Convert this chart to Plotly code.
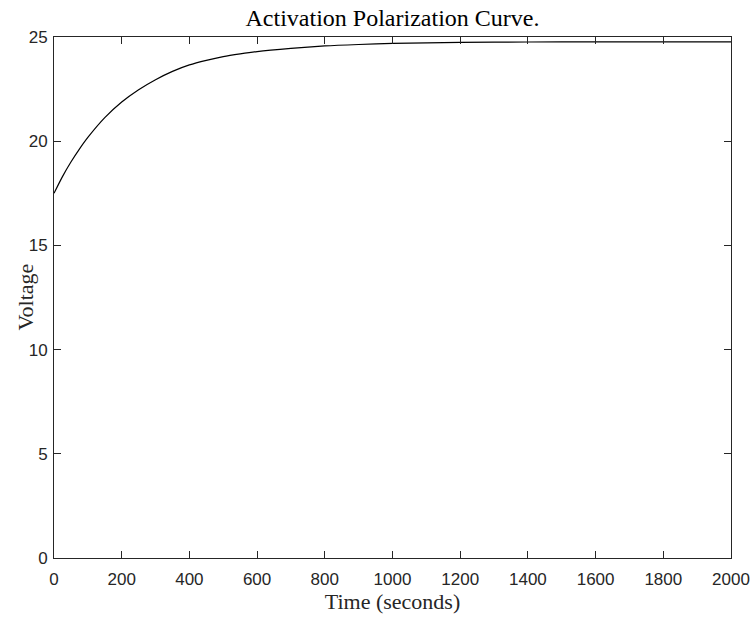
import plotly.graph_objects as go

# Activation polarization: voltage over time
time_s = [0, 25, 50, 75, 100, 150, 200, 250, 300, 350, 400, 450, 500, 550, 600,
          700, 800, 900, 1000, 1200, 1400, 1600, 1800, 2000]
voltage = [17.50, 18.30, 19.00, 19.62, 20.18, 21.13, 21.88, 22.47, 22.95, 23.35,
           23.66, 23.88, 24.06, 24.19, 24.30, 24.45, 24.57, 24.64, 24.69, 24.74,
           24.76, 24.77, 24.77, 24.77]

x_ticks = list(range(0, 2001, 200))
y_ticks = [0, 5, 10, 15, 20, 25]

W, H = 756, 621
ML, MR, MT, MB = 54, 25, 37, 63
PW = W - ML - MR

serif = "Liberation Serif, Times New Roman, serif"
sans = "Liberation Sans, Arial, sans-serif"
axis_col = "#262626"

fig = go.Figure()
fig.add_trace(go.Scatter(
    x=time_s, y=voltage, mode="lines",
    line=dict(color="black", width=1.2, shape="spline", smoothing=0.6),
    showlegend=False, hoverinfo="skip",
))

axis_common = dict(
    showline=True, linecolor=axis_col, linewidth=1, mirror="ticks",
    ticks="inside", ticklen=7, tickwidth=1, tickcolor=axis_col,
    showgrid=False, zeroline=False, automargin=False,
    tickfont=dict(family=sans, size=17, color=axis_col),
)

fig.update_layout(
    width=W, height=H,
    margin=dict(l=ML, r=MR, t=MT, b=MB),
    paper_bgcolor="white", plot_bgcolor="white",
    title=dict(
        text="Activation Polarization Curve.",
        font=dict(family=serif, size=24, color="black"),
        x=(ML + PW / 2) / W, xanchor="center",
        y=1 - 18 / H, yanchor="middle", yref="container",
    ),
    xaxis=dict(
        range=[0, 2000], tickvals=x_ticks,
        title=dict(text="Time (seconds)", font=dict(family=serif, size=22, color=axis_col), standoff=2),
        ticklabelstandoff=6,
        **axis_common,
    ),
    yaxis=dict(
        range=[0, 25], tickvals=y_ticks,
        ticklabelstandoff=2,
        **axis_common,
    ),
)

# y-axis label placed as a rotated annotation in the left margin
fig.add_annotation(
    text="Voltage", textangle=-90, showarrow=False,
    xref="paper", yref="paper", x=-(ML - 25) / PW, y=0.5,
    xanchor="center", yanchor="middle",
    font=dict(family=serif, size=22, color=axis_col),
)

fig.write_html("out.html")
